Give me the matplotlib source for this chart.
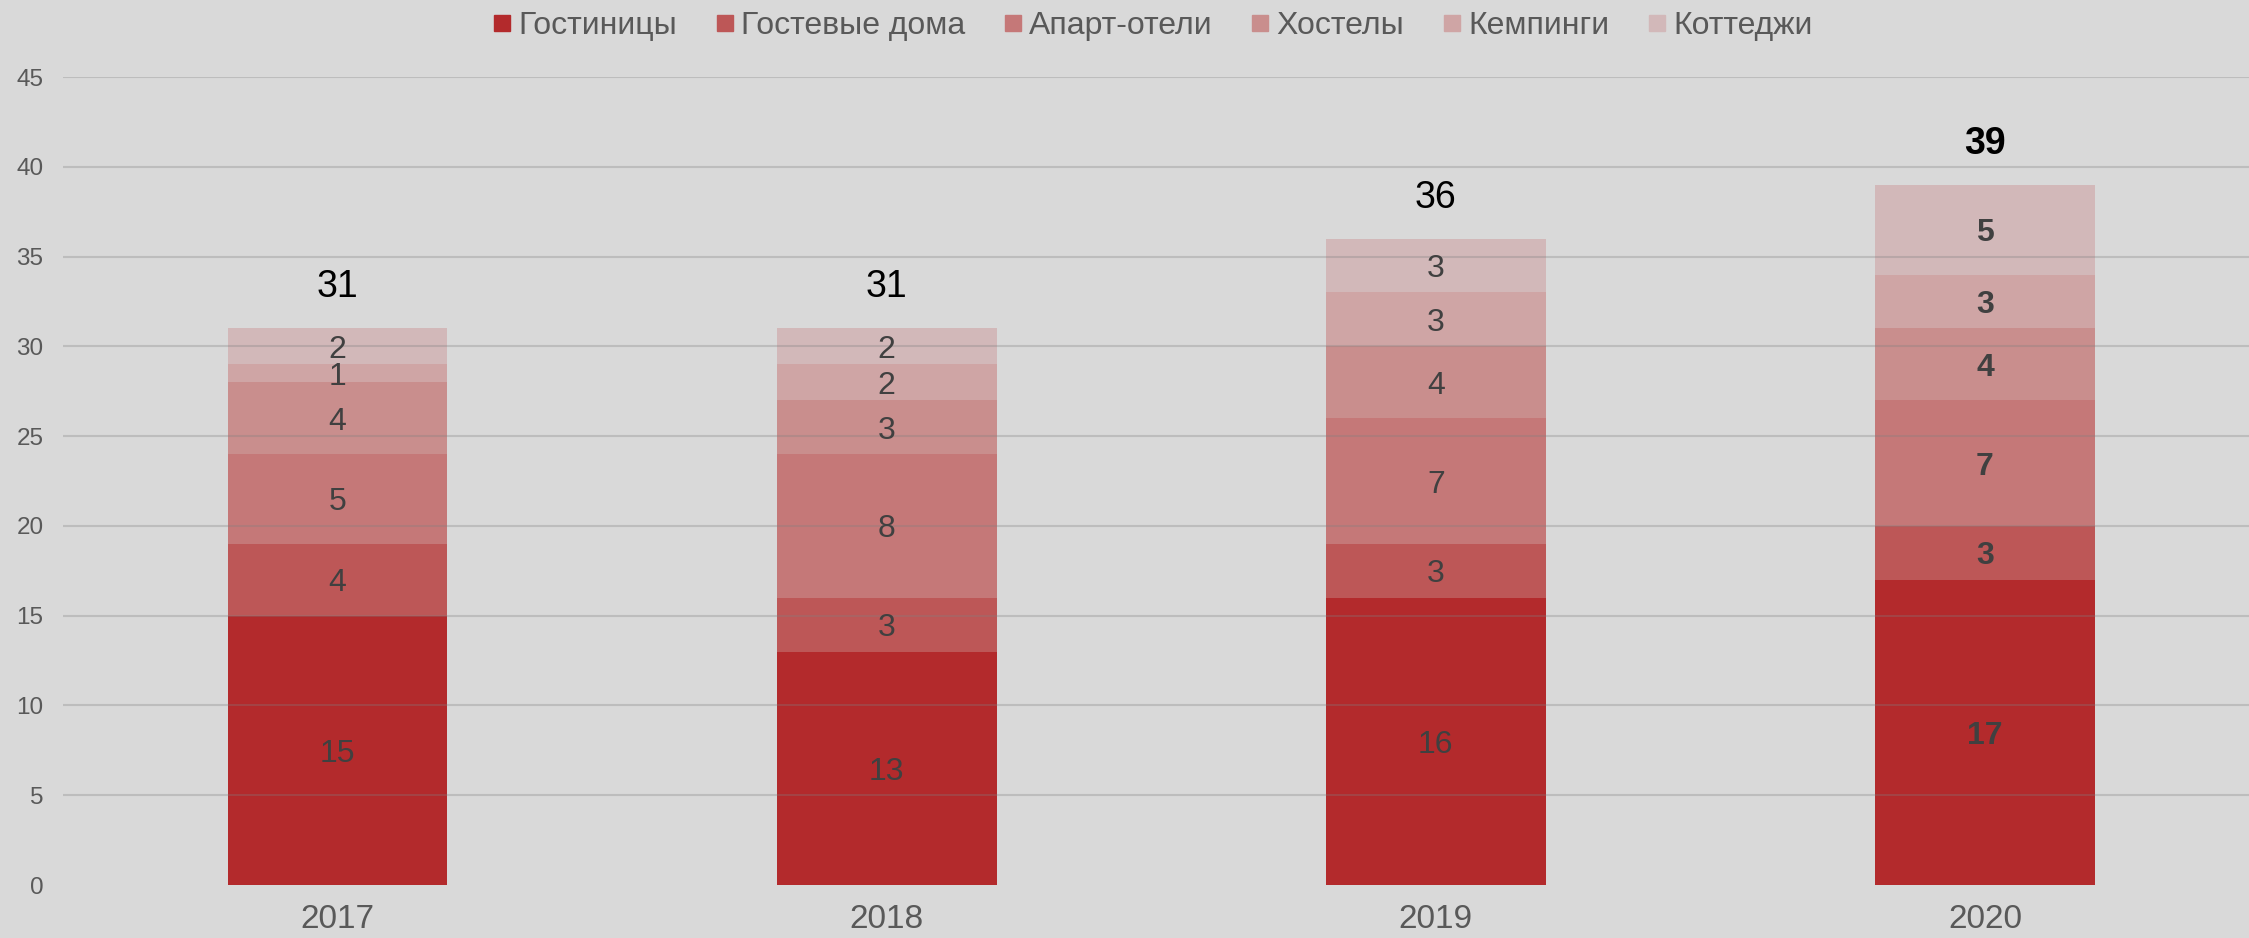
import matplotlib
matplotlib.use("Agg")
import matplotlib.pyplot as plt
from matplotlib.lines import Line2D
import numpy as np

plt.rcParams["font.family"] = ["Liberation Sans", "DejaVu Sans"]

years = ["2017", "2018", "2019", "2020"]
series_names = ["Гостиницы", "Гостевые дома", "Апарт-отели", "Хостелы", "Кемпинги", "Коттеджи"]
hotels = [15, 13, 16, 17]
guest_houses = [4, 3, 3, 3]
apart_hotels = [5, 8, 7, 7]
hostels = [4, 3, 4, 4]
campings = [1, 2, 3, 3]
cottages = [2, 2, 3, 5]
series_values = [hotels, guest_houses, apart_hotels, hostels, campings, cottages]
colors = ["#B32A2C", "#BD5757", "#C57878", "#C98E8D", "#CFA5A5", "#D2B8B9"]

bg = "#D9D9D9"
fig = plt.figure(figsize=(22.49, 9.38), dpi=100, facecolor=bg)
ax = fig.add_axes([0.028, 0.0565, 0.9767, 0.8614], facecolor=bg)

x = np.arange(len(years))
bottom = np.zeros(len(years))
for name, vals, col in zip(series_names, series_values, colors):
    vals = np.array(vals, dtype=float)
    ax.bar(x, vals, 0.4, bottom=bottom, color=col, label=name, zorder=1)
    for i, v in enumerate(vals):
        bold = years[i] == "2020"
        ax.text(x[i], bottom[i] + v / 2, f"{int(v)}", ha="center", va="center_baseline",
                fontsize=23, color="#404040", fontweight="bold" if bold else "normal", zorder=3)
    bottom += vals

# totals above the bars
for i, tot in enumerate(bottom):
    bold = years[i] == "2020"
    ax.text(x[i], tot + 2.5, f"{int(tot)}", ha="center", va="center_baseline", fontsize=27,
            color="black", fontweight="bold" if bold else "normal")

ax.set_xlim(-0.5, 3.5)
ax.set_ylim(0, 45)
ax.set_yticks(np.arange(0, 46, 5))
ax.set_xticks(x)
ax.set_xticklabels(years)
ax.tick_params(axis="y", length=0, pad=14, labelsize=17.5, labelcolor="#595959")
ax.tick_params(axis="x", length=0, pad=14, labelsize=24, labelcolor="#595959")
for s in ax.spines.values():
    s.set_visible(False)

ax.set_axisbelow(False)
ax.yaxis.grid(True, color="#7F7F7F", alpha=0.3, linewidth=1.5, zorder=2)
ax.get_ygridlines()[0].set_visible(False)

handles = [Line2D([], [], marker="s", linestyle="none", markersize=12, color=c) for c in colors]
fig.legend(handles, series_names, loc="center", bbox_to_anchor=(0.511, 0.972), ncol=6,
           frameon=False, fontsize=23, labelcolor="#595959", handletextpad=0.0,
           columnspacing=1.0, handlelength=1.0)

fig.savefig("out.png", dpi=100, facecolor=bg)
